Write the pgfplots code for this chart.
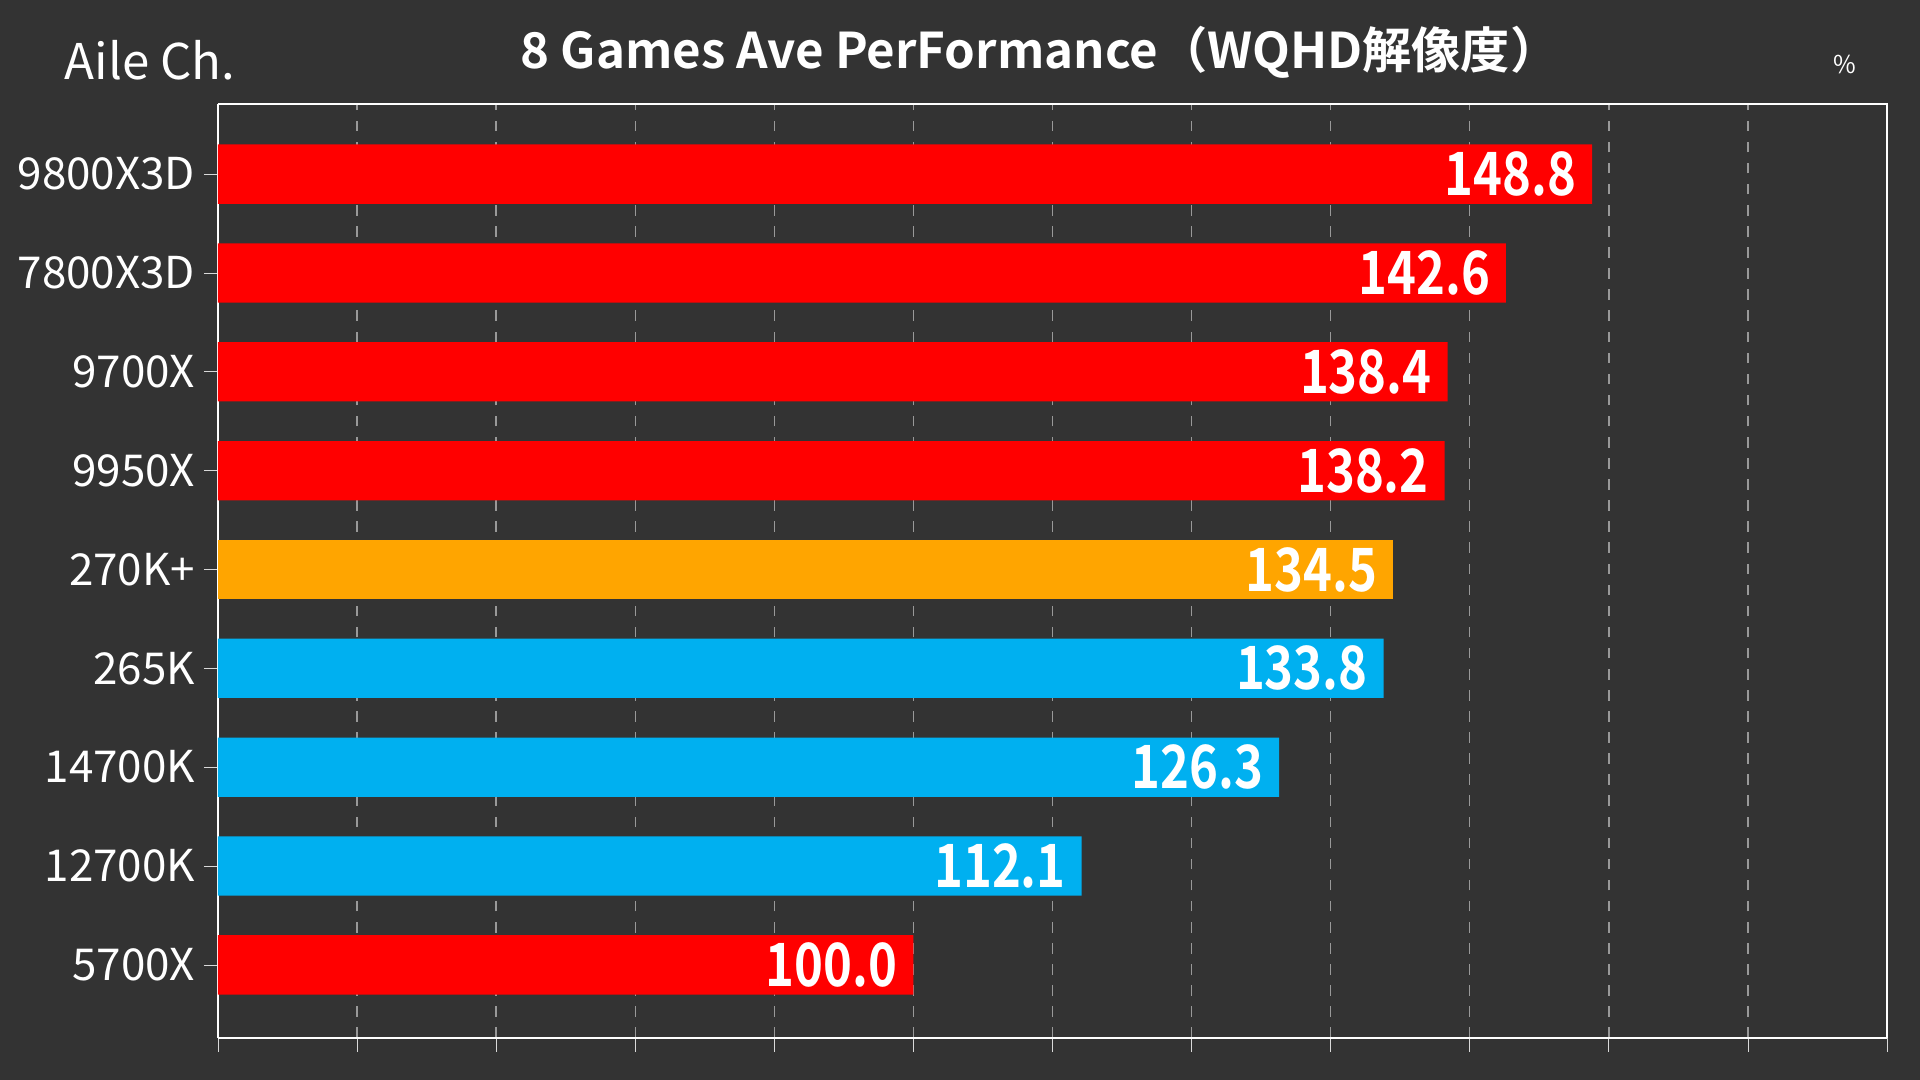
\documentclass[border=0pt]{standalone}
\usepackage{pgfplots}
\pgfplotsset{compat=1.18}
\usepackage{fontspec}
\setmainfont{Noto Sans CJK JP}[BoldFont={* Bold}]
\newfontfamily\cond{Noto Sans CJK JP Bold}[FakeStretch=0.82]
\definecolor{bg}{HTML}{333333}
\definecolor{amdred}{HTML}{FF0000}
\definecolor{intorange}{HTML}{FFA500}
\definecolor{intblue}{HTML}{00B0F0}
\begin{document}
\begin{tikzpicture}[x=1cm,y=1cm]
\useasboundingbox (0,0) rectangle (19.2,10.8);
\fill[bg] (0,0) rectangle (19.2,10.8);
\node[white,font=\fontsize{14}{18}\selectfont\itshape] at (1.5,10.2) {Aile Ch.};
\node[white,font=\fontsize{14}{18}\selectfont\bfseries] at (10.4,10.28) {8 Games Ave PerFormance（WQHD解像度）};
\node[white,font=\fontsize{7}{9}\selectfont] at (18.45,10.15) {\%};
\begin{axis}[
  at={(2.18cm,0.42cm)}, anchor=south west,
  width=16.69cm, height=9.34cm, scale only axis,
  xbar, bar width=0.6, bar shift=0pt,
  xmin=50, xmax=170, ymin=-0.74, ymax=8.71,
  xtick={50,60,...,170}, xticklabels={},
  ytick={0,...,8},
  yticklabels={5700X,12700K,14700K,265K,270K+,9950X,9700X,7800X3D,9800X3D},
  yticklabel style={white,font=\fontsize{12.5}{16}\selectfont,xshift=1pt},
  tick style={white!85!black}, tick align=outside,
  major tick length=4pt,
  xmajorgrids, grid style={dashed,white!50!bg},
  axis line style={white},
  axis x line*=bottom, axis y line*=left,
  clip=false,
  nodes near coords, point meta=explicit symbolic,
  every node near coord/.append style={anchor=east,white,font=\fontsize{17}{20}\selectfont\cond,xshift=-1pt},
]
\draw[white] (axis cs:50,8.71) -- (axis cs:170,8.71) -- (axis cs:170,-0.74);
\addplot[fill=amdred,draw=none] coordinates {(100.0,0) [100.0] (138.2,5) [138.2] (138.4,6) [138.4] (142.6,7) [142.6] (148.8,8) [148.8]};
\addplot[fill=intblue,draw=none] coordinates {(112.1,1) [112.1] (126.3,2) [126.3] (133.8,3) [133.8]};
\addplot[fill=intorange,draw=none] coordinates {(134.5,4) [134.5]};
\end{axis}
\end{tikzpicture}
\end{document}
